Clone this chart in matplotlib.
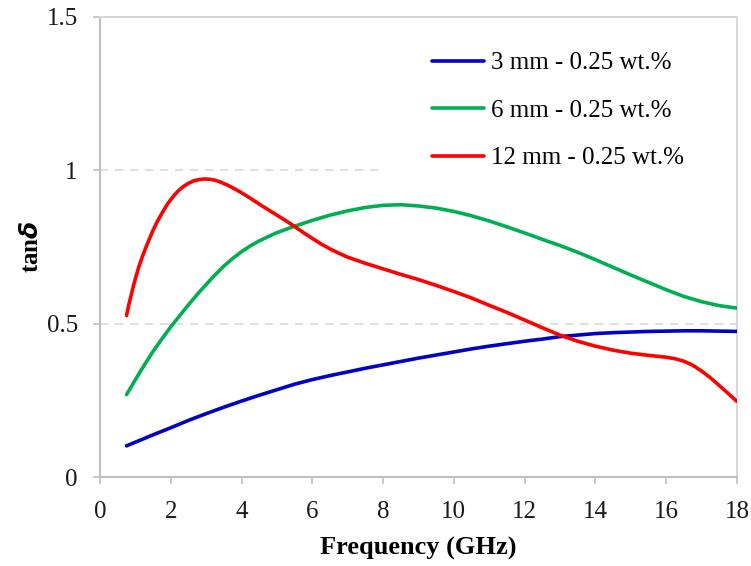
import numpy as np
import matplotlib.pyplot as plt

plt.rcParams['font.family'] = ['Liberation Serif', 'DejaVu Serif']

# 频率 (GHz) 与各曲线读数
freq_3mm = [0.75, 1, 1.5, 2, 2.5, 3, 3.5, 4, 4.5, 5, 5.5, 6, 6.5, 7, 7.5, 8, 8.5, 9,
            9.5, 10, 10.5, 11, 11.5, 12, 12.5, 13, 13.5, 14, 14.5, 15, 15.5, 16,
            16.5, 17, 17.5, 18]
tan_3mm = [0.102, 0.114, 0.138, 0.161, 0.185, 0.207, 0.228, 0.248, 0.267, 0.285,
           0.303, 0.318, 0.331, 0.343, 0.355, 0.366, 0.377, 0.388, 0.398, 0.408,
           0.418, 0.427, 0.435, 0.443, 0.450, 0.458, 0.463, 0.468, 0.471, 0.473,
           0.475, 0.476, 0.477, 0.477, 0.476, 0.475]

freq_6mm = [0.75, 0.9, 1, 1.25, 1.5, 1.75, 2, 2.25, 2.5, 2.75, 3, 3.25, 3.5, 3.75,
            4, 4.25, 4.5, 4.75, 5, 5.5, 6, 6.5, 7, 7.5, 8, 8.5, 9, 9.5, 10, 10.5,
            11, 11.5, 12, 12.5, 13, 13.5, 14, 14.5, 15, 15.5, 16, 16.5, 17, 17.5, 18]
tan_6mm = [0.269, 0.298, 0.318, 0.365, 0.410, 0.451, 0.490, 0.526, 0.562, 0.596,
           0.628, 0.659, 0.688, 0.713, 0.735, 0.754, 0.770, 0.784, 0.797, 0.818,
           0.837, 0.854, 0.868, 0.879, 0.886, 0.888, 0.884, 0.877, 0.866, 0.852,
           0.835, 0.816, 0.796, 0.775, 0.755, 0.733, 0.709, 0.684, 0.659, 0.635,
           0.611, 0.589, 0.572, 0.559, 0.551]

freq_12mm = [0.75, 0.82, 0.9, 1, 1.1, 1.2, 1.3, 1.4, 1.5, 1.6, 1.7, 1.8, 1.9, 2,
             2.1, 2.2, 2.35, 2.5, 2.65, 2.8, 2.95, 3.1, 3.25, 3.4, 3.6, 3.8, 4,
             4.25, 4.5, 4.75, 5, 5.25, 5.5, 5.75, 6, 6.25, 6.5, 6.75, 7, 7.5, 8,
             8.5, 9, 9.5, 10, 10.5, 11, 11.5, 12, 12.5, 13, 13.5, 14, 14.5, 15,
             15.5, 16, 16.25, 16.5, 16.75, 17, 17.25, 17.5, 17.75, 18]
tan_12mm = [0.527, 0.565, 0.603, 0.648, 0.687, 0.720, 0.750, 0.778, 0.805, 0.829,
            0.850, 0.870, 0.889, 0.905, 0.919, 0.932, 0.947, 0.958, 0.966, 0.970,
            0.972, 0.971, 0.968, 0.962, 0.952, 0.940, 0.927, 0.909, 0.890, 0.872,
            0.854, 0.836, 0.817, 0.797, 0.778, 0.760, 0.744, 0.730, 0.717, 0.697,
            0.679, 0.661, 0.644, 0.625, 0.605, 0.584, 0.560, 0.537, 0.512, 0.487,
            0.463, 0.443, 0.427, 0.414, 0.404, 0.397, 0.391, 0.386, 0.378, 0.365,
            0.346, 0.324, 0.299, 0.273, 0.247]

labels = ['3 mm - 0.25 wt.%', '6 mm - 0.25 wt.%', '12 mm - 0.25 wt.%']
colors = ['#0000C8', '#00B050', '#FF0000']

if __name__ == '__main__':
    fig = plt.figure(figsize=(7.51, 5.66), dpi=100)
    ax = fig.add_axes([0.1332, 0.157, 0.848, 0.813])

    # 网格线
    ax.axhline(0.5, color='#d9d9d9', linestyle=(0, (5, 4)), linewidth=1.2, zorder=1)
    ax.axhline(1.0, xmax=0.443, color='#d9d9d9', linestyle=(0, (5, 4)), linewidth=1.2, zorder=1)

    # 曲线
    for fx, fy, c, lab in [(freq_3mm, tan_3mm, colors[0], labels[0]),
                           (freq_6mm, tan_6mm, colors[1], labels[1]),
                           (freq_12mm, tan_12mm, colors[2], labels[2])]:
        ax.plot(fx, fy, color=c, linewidth=2.6, label=lab,
                solid_capstyle='round', solid_joinstyle='round', zorder=3)

    ax.set_xlim(0, 18)
    ax.set_ylim(0, 1.5)
    ax.set_xticks(np.arange(0, 19, 2))
    ax.set_yticks([0, 0.5, 1, 1.5])
    ax.set_yticklabels(['0', '0.5', '1', '1.5'])

    for side in ['left', 'bottom']:
        ax.spines[side].set_color('#bfbfbf')
        ax.spines[side].set_linewidth(1.5)
    for side in ['top', 'right']:
        ax.spines[side].set_color('#d9d9d9')
        ax.spines[side].set_linewidth(1.5)

    ax.tick_params(axis='both', direction='out', length=5, width=1.2,
                   color='#bfbfbf', labelsize=18, labelcolor='#1a1a1a')
    ax.tick_params(axis='x', pad=12)
    ax.tick_params(axis='y', pad=11)

    # 图例
    ax.legend(loc='upper left', bbox_to_anchor=(0.521, 0.924), frameon=False,
              fontsize=18, handlelength=2.1, handletextpad=0.25,
              labelspacing=1.0, borderaxespad=0, borderpad=0)

    # 坐标轴标签
    ax.set_xlabel('Frequency (GHz)', fontsize=19, fontweight='bold')
    ax.set_ylabel('tan$\\boldsymbol{\\delta}$', fontsize=18, fontweight='bold')
    ax.xaxis.set_label_coords(0.5, -0.13)
    ax.yaxis.set_label_coords(-0.09, 0.5)

    plt.savefig('out.png', dpi=100)
